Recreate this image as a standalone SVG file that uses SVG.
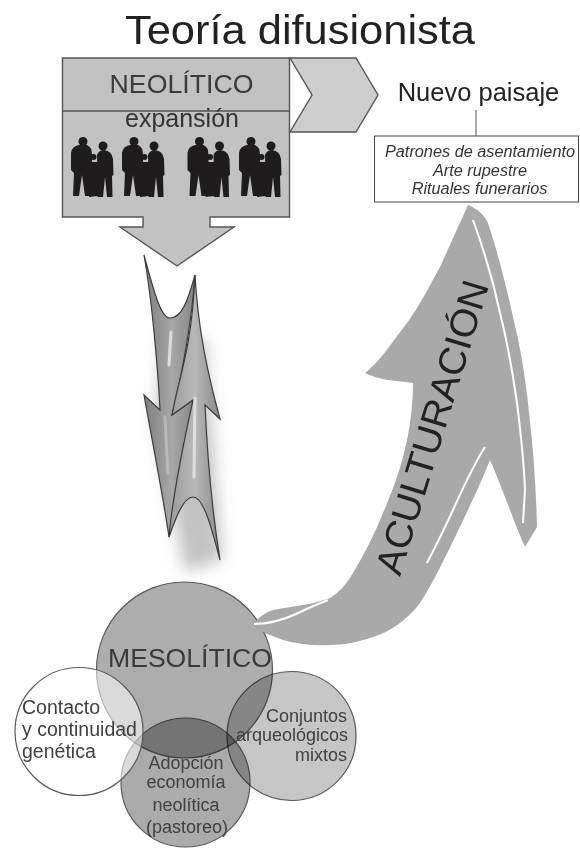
<svg xmlns="http://www.w3.org/2000/svg" width="580" height="848" viewBox="0 0 580 848">
<style>
text{font-family:"Liberation Sans",Arial,sans-serif;fill:#2b2b2b}
.box{fill:#c2c2c2;stroke:#555;stroke-width:1.4}
.lab{font-size:18px;fill:#404040}
.it{font-size:16.300px;font-style:italic;text-anchor:middle;fill:#333}
.ar{stroke:#3c3c3c;stroke-width:1.200}
.hl{fill:none;stroke:#dedede;stroke-width:3;stroke-linecap:round}
.wl{fill:none;stroke:#fff;stroke-width:2}
.cir{stroke:#5a5a5a;stroke-width:1.200}
.mul{mix-blend-mode:multiply}
</style>
<defs>
<filter id="blur" x="-60%" y="-20%" width="220%" height="140%"><feGaussianBlur stdDeviation="8"/></filter>
<linearGradient id="gd" x1="0" y1="0" x2="1" y2="0"><stop offset="0" stop-color="#7e7e7e"/><stop offset=".55" stop-color="#a8a8a8"/><stop offset="1" stop-color="#858585"/></linearGradient>
<linearGradient id="gu" x1="0" y1="0" x2="1" y2="0"><stop offset="0" stop-color="#9a9a9a"/><stop offset=".5" stop-color="#b8b8b8"/><stop offset="1" stop-color="#8a8a8a"/></linearGradient>
<g id="fam" fill="#1e1c1c">
<circle cx="13" cy="4.500" r="4.500"/>
<path d="M1 16Q2 9 9 8H17Q22 10 22 18V34L21 36 20 59H15L12 38 9 59H3L4 36 1 33Z"/>
<circle cx="23.500" cy="20" r="3"/>
<path d="M19 25H28V59L19 60Z"/>
<circle cx="33" cy="9" r="4.500"/>
<path d="M27 18Q29 13 34 13 42 14 43 22L43.500 38 42 39 42.500 60H37L35 40 33 60H27.500V38Z"/>
</g>
</defs>

<g id="titulo"><text x="300" y="44" font-size="41" text-anchor="middle" textLength="350" lengthAdjust="spacingAndGlyphs" style="fill:#222">Teoría difusionista</text></g>

<g id="connectors">
<path class="box" d="M290 58H356L378 95 356 132H290L312 95Z" style="fill:#cdcdcd"/>
<path d="M476 110V136" fill="none" stroke="#555" stroke-width="1"/>
</g>

<g id="neolitico">
<path class="box" d="M62.500 58H289.500V217H210V227H234L177 266 120 227H143V217H62.500Z"/>
<path d="M62.500 111H289.500" stroke="#555" stroke-width="1.400" fill="none"/>
<text x="181.500" y="93" font-size="26.700" text-anchor="middle" style="fill:#3a3a3a">NEOLÍTICO</text>
<text x="182" y="127" font-size="25" text-anchor="middle" style="fill:#333">expansión</text>
<use href="#fam" x="70" y="137"/>
<use href="#fam" x="121" y="137"/>
<use href="#fam" x="186.500" y="137"/>
<use href="#fam" x="238" y="137"/>
</g>

<g id="nuevo-paisaje"><text x="478.500" y="101" font-size="25.500" text-anchor="middle" style="fill:#222">Nuevo paisaje</text></g>

<g id="patrones">
<rect x="374.500" y="136" width="204" height="66" fill="#fff" stroke="#444" stroke-width="1"/>
<text class="it" x="480" y="157">Patrones de asentamiento</text>
<text class="it" x="480" y="176">Arte rupestre</text>
<text class="it" x="479.500" y="194">Rituales funerarios</text>
</g>

<g id="flechas-dobles">
<path d="M165 330 205 340 222 560 185 572 155 420Z" fill="#9a9a9a" filter="url(#blur)" opacity=".6"/>
<path class="ar" fill="url(#gd)" d="M144 255C152 284 160 318 170 318 182 318 188 300 195 275 192 320 182 375 172 415L193 400C188 450 178 500 169 537 162 490 152 440 144 395L160 410C158 370 152 300 144 255Z"/>
<path class="ar" fill="url(#gu)" d="M195 275C198 330 208 375 220 419L205 405C207 450 212 510 220 560 212 530 204 497 193 497 183 497 175 520 169 537 172 500 182 450 193 400L172 415 174 405C180 375 192 345 195 275Z"/>
<path class="hl" d="M171 332 169 365"/>
<path class="hl" d="M195 398 194 477"/>
<path class="hl" d="M165 417 168 473" style="stroke:#b8b8b8"/>
</g>

<g id="mesolitico">
<circle class="cir" cx="184.500" cy="670" r="88" fill="#adadad"/>
</g>
<g id="adopcion">
<circle class="cir mul" cx="185.500" cy="782.500" r="64.500" fill="#ababab"/>
</g>
<g id="conjuntos">
<circle class="cir mul" cx="291.500" cy="736" r="64.500" fill="#c6c6c6"/>
</g>
<g id="contacto">
<circle class="cir" cx="79" cy="731.500" r="64" fill="#fff" fill-opacity=".55"/>
</g>

<g id="aculturacion">
<path fill="#a9a9a9" d="M254 623C262 614 268 612 273 610 295 606 315 604 330 598 340 592 347 583 353 573 365 553 375 533 383 513 393 490 402 465 407 440 411 420 413 400 413 383 397 381 378 380 365 373 380 362 395 338 407 323 420 305 430 285 440 267L468 205C478 209 484 215 488 223 497 250 506 285 513 317 520 345 525 375 528 403 533 445 536 485 537 527L525 547C515 525 505 495 490 460 480 485 468 510 457 533 445 558 433 583 420 603 407 620 390 632 373 637 358 642 345 645 330 645 312 646 297 644 283 640 272 636 262 632 254 627Z"/>
<path class="wl" d="M473 220C484 250 493 280 500 313 508 345 513 375 517 403 521 435 524 465 525 490L523 523"/>
<path class="wl" d="M485 447C470 470 458 500 445 527 438 542 432 553 427 563"/>
<path class="wl" d="M254 624C270 624 283 620 296 614 308 608 318 604 328 600" stroke-width="1.500"/>
<text transform="translate(400 577) rotate(-73)" font-size="38" style="fill:#222" textLength="305" lengthAdjust="spacingAndGlyphs">ACULTURACIÓN</text>
</g>

<g id="textos-circulos">
<text x="190" y="667" font-size="26.600" text-anchor="middle" style="fill:#3a3a3a">MESOLÍTICO</text>
<text class="lab" x="22" y="714" style="font-size:19.500px">Contacto</text>
<text class="lab" x="22" y="736" style="font-size:19.500px">y continuidad</text>
<text class="lab" x="22" y="758" style="font-size:19.500px">genética</text>
<text class="lab" x="347" y="722" text-anchor="end">Conjuntos</text>
<text class="lab" x="348" y="741" text-anchor="end">arqueológicos</text>
<text class="lab" x="347" y="761" text-anchor="end">mixtos</text>
<text class="lab" x="186" y="769" text-anchor="middle">Adopción</text>
<text class="lab" x="186" y="788" text-anchor="middle">economía</text>
<text class="lab" x="186" y="811" text-anchor="middle">neolítica</text>
<text class="lab" x="187" y="833" text-anchor="middle">(pastoreo)</text>
</g>
</svg>
